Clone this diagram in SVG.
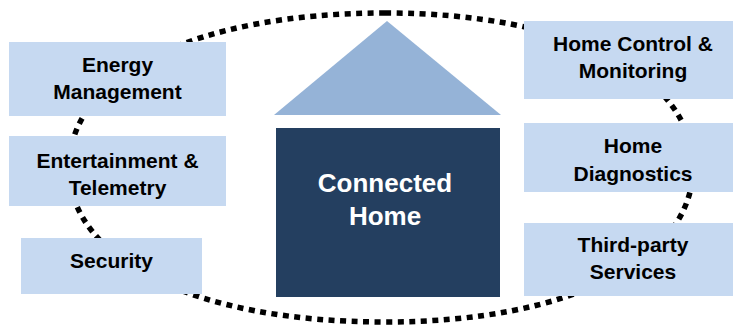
<svg xmlns="http://www.w3.org/2000/svg" width="733" height="328" viewBox="0 0 733 328">
<style>
.box{fill:#c6d9f1}
.lbl{font-family:"Liberation Sans",Arial,sans-serif;font-weight:bold;font-size:21px;fill:#000;text-anchor:middle}
.big{font-family:"Liberation Sans",Arial,sans-serif;font-weight:bold;font-size:26px;fill:#fff;text-anchor:middle}
.ring{fill:none;stroke:#000;stroke-width:5.5;stroke-dasharray:6 5.5}
</style>
<rect width="733" height="328" fill="#fff"/>
<g id="connectors">
<path class="ring" d="M385,13 C569.8,13 693,74.8 693,167.5 C693,260.2 569.8,322 385,322 C195.4,322 69,260.2 69,167.5 C69,74.8 195.4,13 385,13 Z"/>
</g>
<g id="house">
<polygon points="387,21 274,115 501,115" fill="#95b3d7"/>
<rect x="276" y="128" width="224" height="169" fill="#243f60"/>
<text class="big" x="385" y="192">Connected</text>
<text class="big" x="385" y="225">Home</text>
</g>
<g id="energy">
<rect class="box" x="9" y="42" width="217" height="74"/>
<text class="lbl" x="117.5" y="72">Energy</text>
<text class="lbl" x="117.5" y="99">Management</text>
</g>
<g id="entertainment">
<rect class="box" x="9" y="136" width="217" height="70"/>
<text class="lbl" x="117.5" y="167.5">Entertainment &amp;</text>
<text class="lbl" x="117.5" y="194.5">Telemetry</text>
</g>
<g id="security">
<rect class="box" x="21" y="238" width="181" height="56"/>
<text class="lbl" x="111.5" y="268">Security</text>
</g>
<g id="control">
<rect class="box" x="524" y="21" width="217" height="78"/>
<text class="lbl" x="633" y="51">Home Control &amp;</text>
<text class="lbl" x="633" y="77.5">Monitoring</text>
</g>
<g id="diagnostics">
<rect class="box" x="524" y="123" width="217" height="69"/>
<text class="lbl" x="633" y="153">Home</text>
<text class="lbl" x="633" y="180.5">Diagnostics</text>
</g>
<g id="thirdparty">
<rect class="box" x="524" y="223" width="217" height="73"/>
<text class="lbl" x="633" y="252">Third-party</text>
<text class="lbl" x="633" y="279">Services</text>
</g>
</svg>
